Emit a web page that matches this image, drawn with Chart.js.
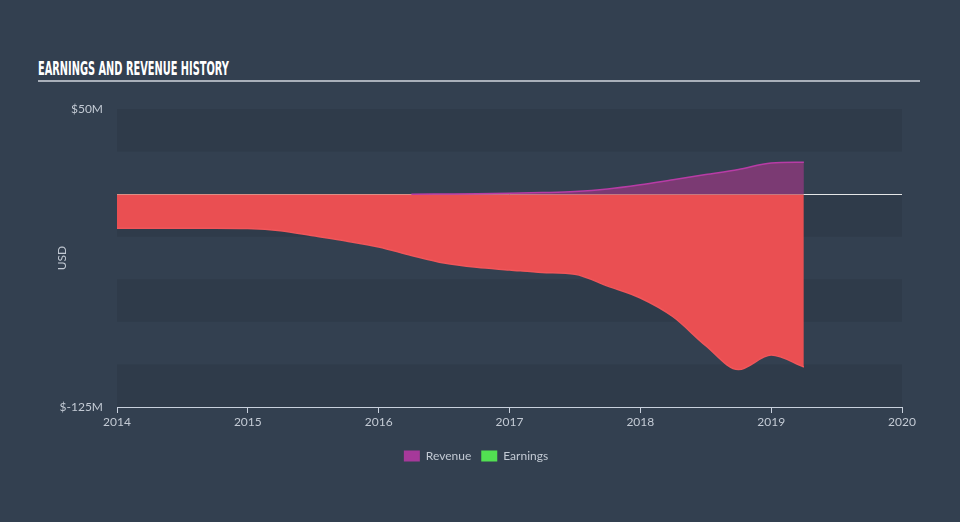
<!DOCTYPE html>
<html>
<head>
<meta charset="utf-8">
<script src="https://cdn.jsdelivr.net/npm/chart.js@4.4.1/dist/chart.umd.min.js"></script>
<style>
  html, body { margin: 0; padding: 0; background: #334050; }
  #wrap { position: relative; width: 960px; height: 522px; overflow: hidden; }
  #title {
    position: absolute; left: 38px; top: 58px;
    font-family: "Liberation Sans Narrow", "DejaVu Sans Condensed", sans-serif;
    font-weight: bold; font-size: 20px; line-height: 20px; color: #ffffff;
    white-space: nowrap; transform-origin: left top;
  }
  #rule { position: absolute; left: 38px; top: 80px; width: 882px; height: 2px; background: #a9b0ba; }
  canvas { position: absolute; left: 0; top: 0; }
</style>
</head>
<body>
<div id="wrap">
  <div id="title">EARNINGS AND REVENUE HISTORY</div>
  <div id="rule"></div>
  <canvas id="chart" width="960" height="522"></canvas>
</div>
<script>
// values, in millions of USD, quarterly
const years = [2014, 2014.25, 2014.5, 2014.75, 2015, 2015.25, 2015.5, 2015.75,
  2016, 2016.25, 2016.5, 2016.75, 2017, 2017.25, 2017.5, 2017.75,
  2018, 2018.25, 2018.5, 2018.75, 2019, 2019.25];
const revenue = [0, 0, 0, 0, 0, 0, 0, 0,
  0, 0, 0.1, 0.2, 0.5, 0.9, 1.5, 3,
  5.5, 8.5, 11.5, 14.5, 18.3, 18.8];
const earnings = [-20, -20, -20, -20, -20.2, -21.5, -24.5, -27.5,
  -31, -36, -40.5, -43, -44.5, -46, -47, -54,
  -61, -72, -89, -103, -94.5, -101.5];
const yTicksShown = [50, -125];
const xTicks = [2014, 2015, 2016, 2017, 2018, 2019, 2020];

// squeeze the title to the width it has in the picture
const title = document.getElementById('title');
title.style.transform = 'scaleX(' + (191 / title.offsetWidth) + ')';

const ctx = document.getElementById('chart').getContext('2d');
const labelColor = '#c3cad4';
const axisColor = '#c8d0dc';

// alternating horizontal bands behind the areas
const bands = {
  id: 'bands',
  beforeDatasetsDraw(chart) {
    const y = chart.scales.y;
    const area = chart.chartArea;
    const c = chart.ctx;
    c.save();
    c.fillStyle = 'rgba(20, 28, 40, 0.13)';
    for (let v = 50; v > -125; v -= 50) {
      const top = y.getPixelForValue(v);
      const bottom = y.getPixelForValue(v - 25);
      c.fillRect(area.left, top, area.right - area.left, bottom - top);
    }
    c.restore();
  }
};

new Chart(ctx, {
  type: 'line',
  data: {
    labels: years,
    datasets: [{
      label: 'Revenue',
      data: years.map((x, i) => ({ x: x, y: revenue[i] })),
      borderColor: '#b83ca6',
      borderWidth: 1.5,
      backgroundColor: '#a6399a',
      fill: { target: 'origin', above: '#7b3a73', below: '#7b3a73' },
      pointRadius: 0,
      cubicInterpolationMode: 'monotone',
      segment: {
        borderColor: s => (s.p0.parsed.y === 0 && s.p1.parsed.y === 0) ? 'rgba(0,0,0,0)' : '#b83ca6'
      }
    }, {
      label: 'Earnings',
      data: years.map((x, i) => ({ x: x, y: earnings[i] })),
      borderColor: '#f0565a',
      borderWidth: 1.5,
      backgroundColor: '#52e052',
      fill: { target: 'origin', above: '#52e052', below: '#ea4f52' },
      pointRadius: 0,
      cubicInterpolationMode: 'monotone'
    }]
  },
  options: {
    responsive: false,
    animation: false,
    layout: { padding: { left: 50, right: 58, top: 109, bottom: 50 } },
    plugins: {
      tooltip: { enabled: false },
      legend: {
        position: 'bottom',
        labels: {
          boxWidth: 16,
          boxHeight: 11,
          padding: 10,
          color: labelColor,
          font: { family: 'Lato', size: 12 },
          generateLabels(chart) {
            return chart.data.datasets.map((ds, i) => ({
              text: ds.label,
              fillStyle: ds.backgroundColor,
              strokeStyle: ds.backgroundColor,
              lineWidth: 0,
              fontColor: labelColor,
              datasetIndex: i
            }));
          }
        }
      }
    },
    scales: {
      x: {
        type: 'linear',
        min: 2014,
        max: 2020,
        afterBuildTicks(scale) { scale.ticks = xTicks.map(v => ({ value: v })); },
        afterFit(scale) { scale.height = 33; },
        ticks: {
          color: labelColor,
          font: { family: 'Lato', size: 12 },
          padding: 2,
          maxRotation: 0,
          callback: v => String(v)
        },
        grid: { drawOnChartArea: false, drawTicks: true, tickLength: 6, color: axisColor },
        border: { display: true, color: axisColor, width: 1 }
      },
      y: {
        min: -125,
        max: 50,
        afterBuildTicks(scale) {
          const t = [];
          for (let v = 50; v >= -125; v -= 25) t.push({ value: v });
          scale.ticks = t;
        },
        afterFit(scale) { scale.width = 67; },
        title: {
          display: true,
          text: 'USD',
          color: labelColor,
          font: { family: 'Lato', size: 12 },
          padding: { top: 5, bottom: 0 }
        },
        ticks: {
          color: labelColor,
          font: { family: 'Lato', size: 12 },
          padding: 14,
          callback: v => yTicksShown.includes(v) ? '$' + v + 'M' : ''
        },
        grid: {
          drawTicks: false,
          color: c => c.tick && c.tick.value === 0 ? '#ffffff' : 'rgba(0,0,0,0)',
          lineWidth: 1
        },
        border: { display: false }
      }
    }
  },
  plugins: [bands]
});
</script>
</body>
</html>
